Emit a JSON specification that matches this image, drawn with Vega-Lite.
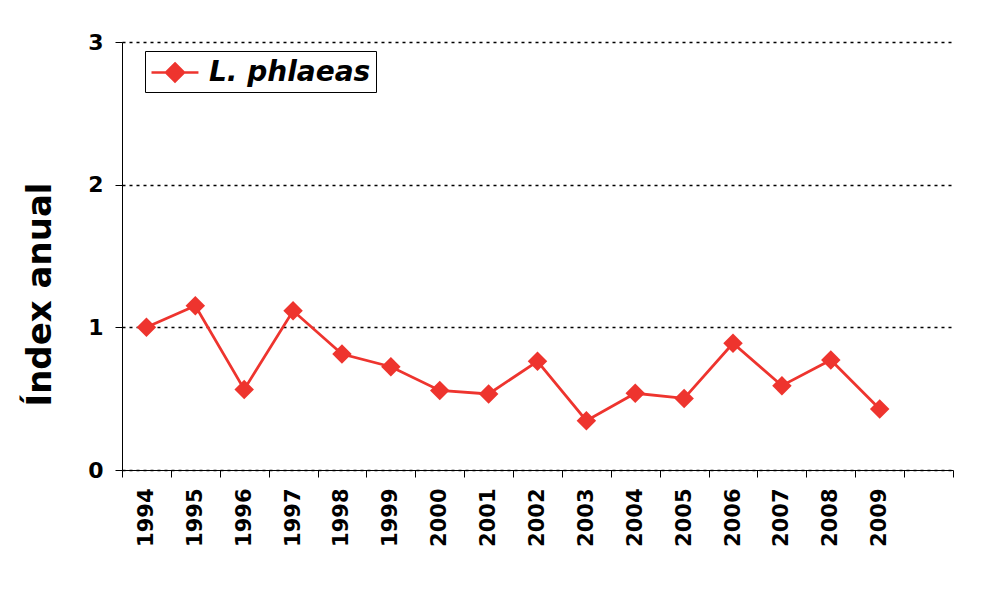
{
  "$schema": "https://vega.github.io/schema/vega-lite/v6.json",
  "width": 831,
  "height": 428,
  "autosize": "none",
  "padding": {"left": 122, "top": 42, "right": 36, "bottom": 123},
  "background": "white",
  "config": {
    "view": {"stroke": null},
    "font": "DejaVu Sans"
  },
  "data": {
    "values": [
      {"year": "1994", "index": 1.00, "species": "L. phlaeas"},
      {"year": "1995", "index": 1.151, "species": "L. phlaeas"},
      {"year": "1996", "index": 0.565, "species": "L. phlaeas"},
      {"year": "1997", "index": 1.116, "species": "L. phlaeas"},
      {"year": "1998", "index": 0.813, "species": "L. phlaeas"},
      {"year": "1999", "index": 0.724, "species": "L. phlaeas"},
      {"year": "2000", "index": 0.558, "species": "L. phlaeas"},
      {"year": "2001", "index": 0.533, "species": "L. phlaeas"},
      {"year": "2002", "index": 0.762, "species": "L. phlaeas"},
      {"year": "2003", "index": 0.346, "species": "L. phlaeas"},
      {"year": "2004", "index": 0.538, "species": "L. phlaeas"},
      {"year": "2005", "index": 0.502, "species": "L. phlaeas"},
      {"year": "2006", "index": 0.888, "species": "L. phlaeas"},
      {"year": "2007", "index": 0.591, "species": "L. phlaeas"},
      {"year": "2008", "index": 0.771, "species": "L. phlaeas"},
      {"year": "2009", "index": 0.427, "species": "L. phlaeas"}
    ]
  },
  "encoding": {
    "x": {
      "field": "year",
      "type": "ordinal",
      "scale": {
        "domain": ["1994","1995","1996","1997","1998","1999","2000","2001","2002","2003","2004","2005","2006","2007","2008","2009","2010"],
        "paddingInner": 0,
        "paddingOuter": 0
      },
      "axis": {
        "title": null,
        "labelExpr": "datum.value == '2010' ? '' : datum.label",
        "labelAngle": -90,
        "labelAlign": "right",
        "labelBaseline": "middle",
        "labelFontSize": 21,
        "labelFontWeight": "bold",
        "labelColor": "black",
        "labelPadding": 11,
        "tickBand": "extent",
        "tickSize": 7,
        "tickColor": "black",
        "domainColor": "black",
        "grid": false
      }
    },
    "y": {
      "field": "index",
      "type": "quantitative",
      "scale": {"domain": [0, 3], "nice": false},
      "axis": {
        "title": "Índex anual",
        "titleFontSize": 34,
        "titleFontWeight": "bold",
        "titleColor": "black",
        "titleAngle": -90,
        "titleAlign": "center",
        "titleBaseline": "alphabetic",
        "titleX": -72,
        "titleY": 252,
        "values": [0, 1, 2, 3],
        "format": "d",
        "labelFontSize": 22,
        "labelFontWeight": "bold",
        "labelColor": "black",
        "labelPadding": 12,
        "tickSize": 7,
        "tickColor": "black",
        "domainColor": "black",
        "grid": true,
        "gridColor": "black",
        "gridDash": [3, 4],
        "gridWidth": 1.3
      }
    },
    "color": {
      "field": "species",
      "type": "nominal",
      "scale": {"range": ["#EE342E"]},
      "legend": {
        "title": null,
        "orient": "none",
        "legendX": 23,
        "legendY": 9,
        "strokeColor": "black",
        "fillColor": "white",
        "padding": 5,
        "symbolType": "M-1,0H2.13M0.567,-0.6L1.167,0L0.567,0.6L-0.033,0Z",
        "symbolSize": 900,
        "symbolStrokeWidth": 2.5,
        "labelFontSize": 28,
        "labelFontWeight": "bold",
        "labelFontStyle": "italic",
        "labelColor": "black",
        "labelOffset": 26,
        "labelLimit": 400,
        "encode": {
          "symbols": {"update": {"fill": {"value": "#EE342E"}, "stroke": {"value": "#EE342E"}, "opacity": {"value": 1}}}
        }
      }
    }
  },
  "layer": [
    {"mark": {"type": "line", "strokeWidth": 2.8}},
    {"mark": {"type": "point", "shape": "diamond", "filled": true, "size": 380, "opacity": 1}}
  ]
}
